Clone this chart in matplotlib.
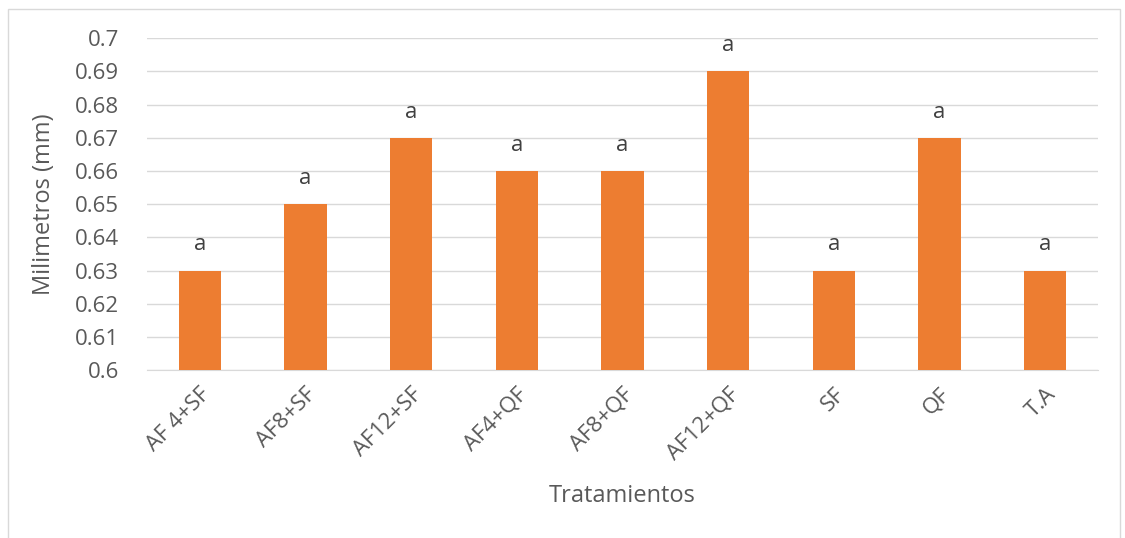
import matplotlib
matplotlib.use('Agg')
import matplotlib.pyplot as plt
from matplotlib.patches import Rectangle

categories = ['AF 4+SF', 'AF8+SF', 'AF12+SF', 'AF4+QF', 'AF8+QF', 'AF12+QF', 'SF', 'QF', 'T.A']
values = [0.63, 0.65, 0.67, 0.66, 0.66, 0.69, 0.63, 0.67, 0.63]
letters = ['a'] * len(categories)
yticks = [0.6, 0.61, 0.62, 0.63, 0.64, 0.65, 0.66, 0.67, 0.68, 0.69, 0.7]
ytick_labels = ['0.6', '0.61', '0.62', '0.63', '0.64', '0.65', '0.66', '0.67', '0.68', '0.69', '0.7']

plt.rcParams['font.family'] = ['Open Sans', 'DejaVu Sans']
TXT = '#595959'
ORANGE = '#ED7D31'

fig = plt.figure(figsize=(11.25, 5.38), dpi=100)
ax = fig.add_axes([0.1307, 0.312, 0.8453, 0.617])

x = range(len(categories))
bars = ax.bar(x, values, width=0.4, color=ORANGE, zorder=3)
ax.bar_label(bars, labels=letters, padding=11, fontsize=16, color='#404040')

ax.set_ylim(0.6, 0.7)
ax.set_xlim(-0.5, len(categories) - 0.5)
ax.set_yticks(yticks)
ax.set_yticklabels(ytick_labels)
ax.set_xticks(list(x))
ax.set_xticklabels(categories, rotation=45, ha='right', rotation_mode='anchor')
ax.tick_params(axis='both', length=0, labelsize=16, labelcolor=TXT)
ax.tick_params(axis='y', pad=20)
ax.tick_params(axis='x', pad=10)
ax.grid(axis='y', color='#D9D9D9', linewidth=1, zorder=0)
for s in ['top', 'right', 'left']:
    ax.spines[s].set_visible(False)
ax.spines['bottom'].set_color('#D9D9D9')
ax.set_ylabel('Milimetros (mm)', fontsize=17, color=TXT, labelpad=14)
ax.set_xlabel('Tratamientos', fontsize=17, color=TXT, labelpad=14)

fig.patches.append(Rectangle((8 / 1125, -0.05), 1112 / 1125, 1.05 - 9 / 538,
                             transform=fig.transFigure, fill=False,
                             edgecolor='#D9D9D9', linewidth=1))

fig.savefig('out.png', dpi=100)
